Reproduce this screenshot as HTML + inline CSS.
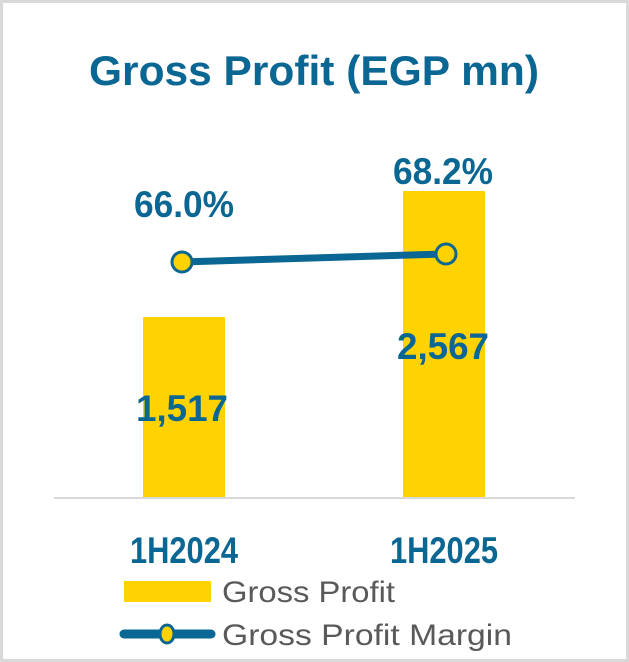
<!DOCTYPE html>
<html><head><meta charset="utf-8"><style>
html,body{margin:0;padding:0;background:#fff}
svg{display:block}
text{font-family:"Liberation Sans",sans-serif}
</style></head><body>
<svg width="629" height="662" viewBox="0 0 629 662" xmlns="http://www.w3.org/2000/svg">
<rect x="1.5" y="1.5" width="626" height="659" fill="#fff" stroke="#d9d9d9" stroke-width="3"/>
<text x="314" y="85" text-anchor="middle" font-size="42" font-weight="bold" fill="#0a6692" textLength="450" lengthAdjust="spacingAndGlyphs">Gross Profit (EGP mn)</text>
<rect x="143" y="317" width="82" height="180" fill="#ffd200"/>
<rect x="403" y="191" width="82" height="306" fill="#ffd200"/>
<line x1="54" y1="498" x2="575" y2="498" stroke="#d9d9d9" stroke-width="2"/>
<line x1="182" y1="262" x2="444" y2="254" stroke="#0a6692" stroke-width="7"/>
<circle cx="182" cy="262" r="10" fill="#ffd200" stroke="#0a6692" stroke-width="3"/>
<circle cx="446" cy="254" r="10" fill="#ffd200" stroke="#0a6692" stroke-width="3"/>
<g font-size="37" font-weight="bold" fill="#0a6692" text-anchor="middle">
<text x="184" y="217" textLength="100" lengthAdjust="spacingAndGlyphs">66.0%</text>
<text x="443" y="184" textLength="100" lengthAdjust="spacingAndGlyphs">68.2%</text>
<text x="182" y="421" textLength="92" lengthAdjust="spacingAndGlyphs">1,517</text>
<text x="443" y="359" textLength="92" lengthAdjust="spacingAndGlyphs">2,567</text>
<text x="184" y="563" textLength="108" lengthAdjust="spacingAndGlyphs">1H2024</text>
<text x="444" y="563" textLength="108" lengthAdjust="spacingAndGlyphs">1H2025</text>
</g>
<rect x="124" y="581" width="87" height="21" fill="#ffd200"/>
<text x="222" y="602" font-size="30" fill="#595959" textLength="173" lengthAdjust="spacingAndGlyphs">Gross Profit</text>
<line x1="124" y1="634" x2="211" y2="634" stroke="#0a6692" stroke-width="9" stroke-linecap="round"/>
<ellipse cx="167" cy="634" rx="7" ry="9" fill="#ffd200" stroke="#0a6692" stroke-width="3"/>
<text x="222" y="645" font-size="30" fill="#595959" textLength="290" lengthAdjust="spacingAndGlyphs">Gross Profit Margin</text>
</svg>
</body></html>
